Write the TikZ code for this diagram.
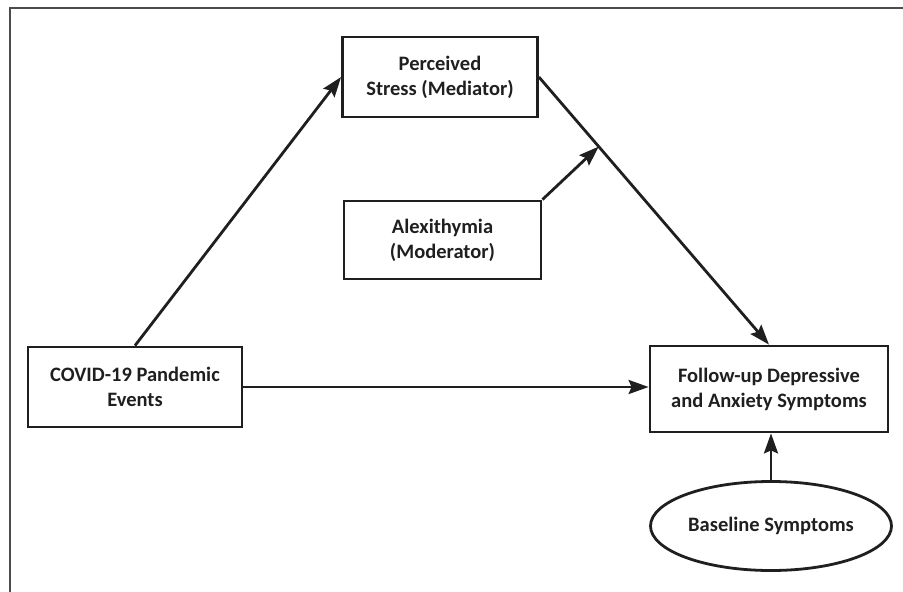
\documentclass[tikz,border=0pt]{standalone}
\usepackage{fontspec}
\setmainfont{Carlito}
\usepackage{xcolor}
\usepackage{tikz}
\usetikzlibrary{arrows.meta,shapes.geometric,calc}
\definecolor{framegray}{gray}{0.3}
\definecolor{inkgray}{gray}{0.12}
\tikzstyle{box} = [draw=inkgray,text=inkgray,line width=2.8pt,align=center,font=\fontsize{20.5}{25}\selectfont\bfseries]
\tikzstyle{oval} = [box,ellipse,inner sep=0pt]
\tikzstyle{arrow} = [color=inkgray,line width=2.8pt,-{Stealth[length=20pt,width=14pt,inset=3pt]}]

\begin{document}
\begin{tikzpicture}[x=1pt,y=-1pt]
            \useasboundingbox (0,0) rectangle (903,592);
            % frame
            \draw [color=framegray,line width=2pt] (10,592) -- (10,8) -- (903,8);
            % boxes
            \node [box,minimum width=195pt,minimum height=80pt] (stress) at (440,77) {Perceived\\Stress (Mediator)};
            \node [box,minimum width=197pt,minimum height=78pt] (alex) at (442.5,240) {Alexithymia\\(Moderator)};
            \node [box,minimum width=214pt,minimum height=80pt] (covid) at (135,387) {COVID-19 Pandemic\\Events};
            \node [box,minimum width=238pt,minimum height=86pt] (follow) at (769,389) {Follow-up Depressive\\and Anxiety Symptoms};
            \node [oval,minimum width=241pt,minimum height=89pt] (base) at (771,526) {Baseline Symptoms};
            % arrows
            \draw [arrow] (covid.north) -- (stress.west);
            \draw [arrow] (stress.east) -- (follow.north) coordinate[pos=0.26] (mod);
            \draw [arrow] (alex.north east) -- (mod);
            \draw [arrow] (covid.east) -- (covid.east -| follow.west);
            \draw [arrow] (base.north) -- (base.north |- follow.south);
\end{tikzpicture}
\end{document}
